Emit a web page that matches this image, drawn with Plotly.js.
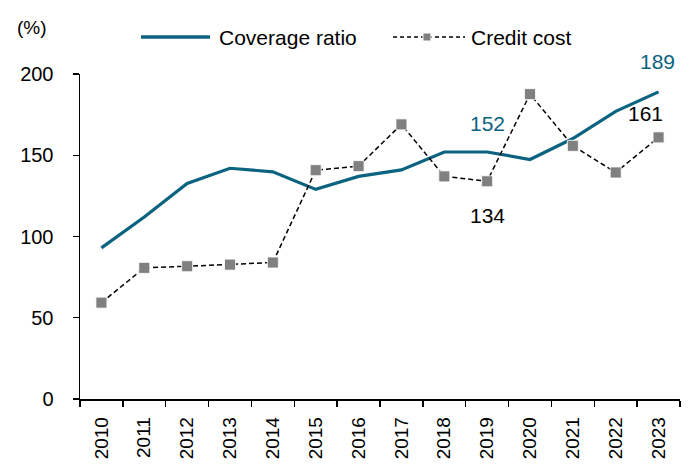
<!DOCTYPE html>
<html>
<head>
<meta charset="utf-8">
<script src="https://cdn.plot.ly/plotly-3.0.1.min.js"></script>
<style>html,body{margin:0;padding:0;background:#fff;}#chart{width:689px;height:464px;}</style>
</head>
<body>
<div id="chart"></div>
<script>
const years = ["2010","2011","2012","2013","2014","2015","2016","2017","2018","2019","2020","2021","2022","2023"];
const coverageRatio = [93, 112, 132.6, 142, 139.8, 129, 137, 141, 152, 152, 147.4, 160.3, 177, 189];
const creditCost = [59.3, 80.7, 81.7, 82.7, 84, 140.8, 143.3, 169, 137, 134, 187.6, 155.8, 139.4, 161];
const yTicks = [0, 50, 100, 150, 200];
const seriesNames = ["Coverage ratio", "Credit cost"];

const teal = "#0b6380";
const gray = "#808080";
const font = "Liberation Sans, Arial, sans-serif";

const traces = [
  {
    x: years, y: coverageRatio, name: seriesNames[0], type: "scatter", mode: "lines",
    line: {color: teal, width: 3.2}, showlegend: false
  },
  {
    x: years, y: creditCost, name: seriesNames[1], type: "scatter", mode: "lines+markers",
    line: {color: "#000000", width: 1.5, dash: "5px,3px"},
    marker: {symbol: "square", size: 11, color: gray, line: {color: "#ffffff", width: 0.8}},
    showlegend: false
  }
];

const labelDefs = [
  {i: 9, vals: coverageRatio, color: teal, yshift: 29, xshift: 0},
  {i: 9, vals: creditCost, color: "#000", yshift: -34, xshift: 0},
  {i: 13, vals: coverageRatio, color: teal, yshift: 30, xshift: -1},
  {i: 13, vals: creditCost, color: "#000", yshift: 24, xshift: -13}
];
const annotations = labelDefs.map(d => ({
  xref: "x", yref: "y", x: d.i, y: d.vals[d.i], text: String(Math.round(d.vals[d.i])),
  showarrow: false, font: {color: d.color, size: 21}, yshift: d.yshift, xshift: d.xshift
}));

// "(%)" unit label
annotations.push({xref: "paper", yref: "paper", x: -0.108, y: 1.142, xanchor: "left", yanchor: "middle",
  text: "(%)", showarrow: false, font: {size: 19, color: "#000"}});

// Custom legend (long legend lines as in the reference)
const legY = 1.1138;
annotations.push({xref: "paper", yref: "paper", x: 0.2283, y: legY, xanchor: "left", yanchor: "middle",
  text: seriesNames[0], showarrow: false, font: {size: 21, color: "#000"}});
annotations.push({xref: "paper", yref: "paper", x: 0.6483, y: legY, xanchor: "left", yanchor: "middle",
  text: seriesNames[1], showarrow: false, font: {size: 21, color: "#000"}});

const shapes = [
  {type: "line", xref: "paper", yref: "paper", x0: 0.1017, x1: 0.2167, y0: legY, y1: legY,
    line: {color: teal, width: 3.5}},
  {type: "line", xref: "paper", yref: "paper", x0: 0.5217, x1: 0.6417, y0: legY, y1: legY,
    line: {color: "#000", width: 1.5, dash: "4px,3px"}},
  {type: "rect", xref: "paper", yref: "paper", xsizemode: "pixel", ysizemode: "pixel",
    xanchor: 0.5783, yanchor: legY, x0: -4, x1: 4, y0: -4, y1: 4,
    fillcolor: gray, line: {color: "#ffffff", width: 1}}
];

const layout = {
  width: 689, height: 464,
  margin: {l: 80, r: 9, t: 74, b: 65, autoexpand: false},
  paper_bgcolor: "#fff", plot_bgcolor: "#fff",
  font: {family: font, size: 19, color: "#000"},
  showlegend: false,
  xaxis: {
    type: "category", tickangle: -90, tickson: "boundaries", ticks: "outside", ticklen: 6,
    tickcolor: "#000", tickwidth: 1.3, showline: true, linecolor: "#000", linewidth: 1.5,
    showgrid: false, zeroline: false, tickfont: {size: 19}, range: [-0.5, 13.5],
    ticklabelstandoff: 9
  },
  yaxis: {
    range: [0, 200], tickvals: yTicks, ticks: "outside", ticklen: 6, tickcolor: "#000", tickwidth: 1.3,
    showline: true, linecolor: "#000", linewidth: 1.5, showgrid: false, zeroline: false,
    tickfont: {size: 20}, ticklabelstandoff: 15
  },
  shapes: shapes,
  annotations: annotations
};

Plotly.newPlot("chart", traces, layout, {staticPlot: true, displayModeBar: false});
</script>
</body>
</html>
